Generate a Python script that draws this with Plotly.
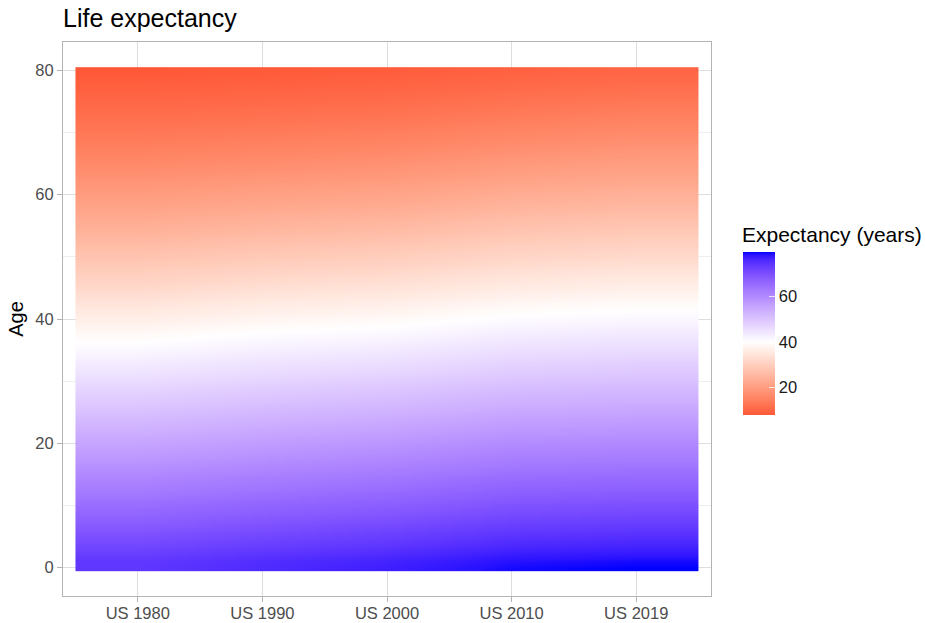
import plotly.graph_objects as go

years = ["US 1980", "US 1990", "US 2000", "US 2010", "US 2019"]
ages = list(range(0, 81))

e_1980 = [73.7, 73.6, 72.7, 71.7, 70.8, 69.8, 68.8, 67.8, 66.9, 65.9,
          64.9, 63.9, 62.9, 62.0, 61.0, 60.0, 59.1, 58.1, 57.2, 56.2,
          55.3, 54.4, 53.5, 52.5, 51.6, 50.7, 49.7, 48.8, 47.9, 46.9,
          46.0, 45.1, 44.1, 43.2, 42.2, 41.3, 40.4, 39.4, 38.5, 37.6,
          36.7, 35.8, 34.9, 34.0, 33.1, 32.2, 31.3, 30.5, 29.6, 28.8,
          27.9, 27.1, 26.2, 25.4, 24.6, 23.8, 23.0, 22.3, 21.5, 20.7,
          20.0, 19.3, 18.6, 17.9, 17.2, 16.5, 15.8, 15.2, 14.5, 13.9,
          13.3, 12.7, 12.1, 11.6, 11.0, 10.5, 10.0, 9.5, 9.0, 8.6, 8.1]
e_1990 = [75.4, 75.1, 74.2, 73.2, 72.2, 71.2, 70.2, 69.3, 68.3, 67.3,
          66.3, 65.3, 64.3, 63.3, 62.4, 61.4, 60.4, 59.5, 58.5, 57.6,
          56.7, 55.7, 54.8, 53.9, 52.9, 52.0, 51.1, 50.1, 49.2, 48.3,
          47.3, 46.4, 45.5, 44.6, 43.6, 42.7, 41.8, 40.9, 40.0, 39.0,
          38.1, 37.2, 36.3, 35.4, 34.5, 33.6, 32.7, 31.8, 30.9, 30.0,
          29.1, 28.3, 27.4, 26.6, 25.7, 24.9, 24.1, 23.3, 22.5, 21.7,
          20.9, 20.2, 19.4, 18.7, 17.9, 17.2, 16.5, 15.8, 15.2, 14.5,
          13.9, 13.3, 12.7, 12.1, 11.5, 10.9, 10.4, 9.9, 9.4, 8.9, 8.5]
e_2000 = [76.8, 76.4, 75.5, 74.5, 73.5, 72.5, 71.5, 70.5, 69.5, 68.5,
          67.5, 66.5, 65.6, 64.6, 63.6, 62.6, 61.6, 60.7, 59.7, 58.8,
          57.8, 56.9, 55.9, 55.0, 54.0, 53.1, 52.1, 51.2, 50.2, 49.3,
          48.3, 47.4, 46.4, 45.5, 44.5, 43.6, 42.7, 41.7, 40.8, 39.9,
          39.0, 38.0, 37.1, 36.2, 35.3, 34.4, 33.5, 32.6, 31.7, 30.8,
          30.0, 29.1, 28.2, 27.4, 26.5, 25.7, 24.9, 24.0, 23.2, 22.4,
          21.6, 20.9, 20.1, 19.3, 18.6, 17.9, 17.2, 16.5, 15.8, 15.1,
          14.5, 13.8, 13.2, 12.6, 12.0, 11.4, 10.9, 10.3, 9.8, 9.3, 8.8]
e_2010 = [78.7, 78.2, 77.3, 76.3, 75.3, 74.3, 73.3, 72.3, 71.3, 70.3,
          69.3, 68.3, 67.4, 66.4, 65.4, 64.4, 63.4, 62.4, 61.5, 60.5,
          59.6, 58.6, 57.7, 56.7, 55.8, 54.8, 53.9, 52.9, 52.0, 51.0,
          50.1, 49.1, 48.2, 47.3, 46.3, 45.4, 44.4, 43.5, 42.6, 41.6,
          40.7, 39.8, 38.9, 37.9, 37.0, 36.1, 35.2, 34.3, 33.4, 32.5,
          31.7, 30.8, 29.9, 29.1, 28.2, 27.4, 26.6, 25.7, 24.9, 24.1,
          23.3, 22.5, 21.7, 20.9, 20.1, 19.4, 18.6, 17.9, 17.2, 16.5,
          15.8, 15.1, 14.4, 13.8, 13.1, 12.5, 11.9, 11.3, 10.7, 10.1, 9.6]
e_2019 = [79.3, 78.7, 77.7, 76.8, 75.8, 74.8, 73.8, 72.8, 71.8, 70.8,
          69.8, 68.8, 67.8, 66.8, 65.8, 64.8, 63.9, 62.9, 61.9, 61.0,
          60.0, 59.1, 58.1, 57.2, 56.3, 55.3, 54.4, 53.4, 52.5, 51.6,
          50.6, 49.7, 48.8, 47.9, 46.9, 46.0, 45.1, 44.2, 43.2, 42.3,
          41.4, 40.5, 39.6, 38.7, 37.8, 36.9, 36.0, 35.1, 34.2, 33.3,
          32.4, 31.6, 30.7, 29.9, 29.0, 28.2, 27.4, 26.5, 25.7, 24.9,
          24.1, 23.3, 22.5, 21.8, 21.0, 20.3, 19.5, 18.8, 18.1, 17.4,
          16.7, 16.0, 15.3, 14.6, 13.9, 13.3, 12.6, 12.0, 11.4, 10.8, 10.2]

midpoint = 40
series = [e_1980, e_1990, e_2000, e_2010, e_2019]
z = [[s[i] for s in series] for i in range(len(ages))]

# ---- diverging colour scale (red - white - blue), interpolated in Lab ----
def _lin(c):
    c = c / 255.0
    return c / 12.92 if c <= 0.04045 else ((c + 0.055) / 1.055) ** 2.4

def _delin(c):
    c = 12.92 * c if c <= 0.0031308 else 1.055 * c ** (1 / 2.4) - 0.055
    return max(0, min(255, round(c * 255)))

WX, WY, WZ = 0.95047, 1.0, 1.08883

def rgb2lab(rgb):
    r, g, b = [_lin(v) for v in rgb]
    X = 0.4124564 * r + 0.3575761 * g + 0.1804375 * b
    Y = 0.2126729 * r + 0.7151522 * g + 0.0721750 * b
    Z = 0.0193339 * r + 0.1191920 * g + 0.9503041 * b
    def f(t):
        return t ** (1 / 3) if t > 216 / 24389 else (24389 / 27 * t + 16) / 116
    fx, fy, fz = f(X / WX), f(Y / WY), f(Z / WZ)
    return (116 * fy - 16, 500 * (fx - fy), 200 * (fy - fz))

def lab2rgb(lab):
    L, a, b = lab
    fy = (L + 16) / 116
    fx = fy + a / 500
    fz = fy - b / 200
    def finv(t):
        return t ** 3 if t ** 3 > 216 / 24389 else (116 * t - 16) / (24389 / 27)
    X, Y, Z = finv(fx) * WX, finv(fy) * WY, finv(fz) * WZ
    r = 3.2404542 * X - 1.5371385 * Y - 0.4985314 * Z
    g = -0.9692660 * X + 1.8760108 * Y + 0.0415560 * Z
    bb = 0.0556434 * X - 0.2040259 * Y + 1.0572252 * Z
    return tuple(_delin(max(0.0, v)) for v in (r, g, bb))

LOW, MID, HIGH = rgb2lab((255, 0, 0)), rgb2lab((255, 255, 255)), rgb2lab((0, 0, 255))

def ramp(t):
    t = max(0.0, min(1.0, t))
    if t <= 0.5:
        a, b, u = LOW, MID, t / 0.5
    else:
        a, b, u = MID, HIGH, (t - 0.5) / 0.5
    lab = tuple(a[k] + (b[k] - a[k]) * u for k in range(3))
    return "rgb(%d,%d,%d)" % lab2rgb(lab)

flat = [v for s in series for v in s]
zmin, zmax = min(flat), max(flat)
maxdist = max(abs(zmin - midpoint), abs(zmax - midpoint))
N = 60
colorscale = []
for k in range(N + 1):
    p = k / N
    v = zmin + p * (zmax - zmin)
    t = (v - midpoint) / (2 * maxdist) + 0.5
    colorscale.append([p, ramp(t)])

FONT = "Liberation Sans, Arial, sans-serif"

fig = go.Figure(
    go.Heatmap(
        x=years,
        y=ages,
        z=z,
        zmin=zmin,
        zmax=zmax,
        zsmooth="best",
        colorscale=colorscale,
        colorbar=dict(
            x=1.049, xanchor="left", xpad=0,
            y=0.474, yanchor="middle", ypad=0,
            len=163, lenmode="pixels",
            thickness=32, thicknessmode="pixels",
            outlinewidth=0,
            tickvals=[20, 40, 60],
            tickprefix="\u2009\u2009",
            ticks="inside", ticklen=6, tickcolor="rgba(255,255,255,0.75)",
            tickfont=dict(family=FONT, size=16.5, color="#1a1a1a"),
        ),
        hoverinfo="skip",
    )
)

fig.update_layout(
    width=925, height=623,
    margin=dict(l=63, r=214, t=42, b=27, autoexpand=False),
    paper_bgcolor="white", plot_bgcolor="white",
    title=dict(text="Life expectancy", x=0, xref="paper", xanchor="left",
               y=1 - 18 / 623, yref="container", yanchor="middle",
               font=dict(family=FONT, size=25, color="black")),
    annotations=[dict(text="Expectancy (years)", x=(740 - 63) / 648, xref="paper", xanchor="left",
                      y=(596 - 234) / 554, yref="paper", yanchor="middle",
                      showarrow=False, font=dict(family=FONT, size=21, color="black"))],
    xaxis=dict(type="category", range=[-0.6, 4.6], automargin=False,
               showgrid=True, gridcolor="#DEDEDE", gridwidth=1,
               ticks="outside", ticklen=5, tickcolor="#B3B3B3",
               ticklabelstandoff=-3,
               tickfont=dict(family=FONT, size=16.5, color="#4D4D4D"),
               showline=True, mirror=True, linecolor="#B3B3B3", linewidth=1,
               zeroline=False),
    yaxis=dict(range=[-4.55, 84.55], tick0=0, dtick=20, automargin=False,
               showgrid=True, gridcolor="#DEDEDE", gridwidth=1,
               minor=dict(dtick=10, showgrid=True, gridcolor="#EEEEEE", gridwidth=0.5),
               ticks="outside", ticklen=5, tickcolor="#B3B3B3",
               tickfont=dict(family=FONT, size=16.5, color="#4D4D4D"),
               showline=True, mirror=True, linecolor="#B3B3B3", linewidth=1,
               zeroline=False,
               title=dict(text="Age", font=dict(family=FONT, size=20, color="black"), standoff=6)),
)

fig.write_html("out.html", config={"displayModeBar": False},
               post_script="document.body.style.margin='0';")
